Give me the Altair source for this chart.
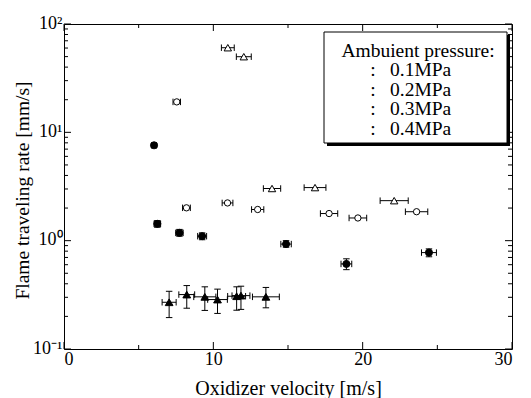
import altair as alt
import pandas as pd

FONT = "Liberation Serif"
W, H = 448, 325

# ---- data ----
ot_x = [10.97, 12.04, 13.93, 16.81, 22.11]
ot_y = [60.4, 49.9, 3.03, 3.09, 2.34]
ot_xerr = [0.43, 0.5, 0.58, 0.73, 0.94]

oc_x = [7.55, 8.2, 10.95, 12.97, 17.75, 19.68, 23.61]
oc_y = [19.1, 2.01, 2.23, 1.94, 1.78, 1.62, 1.85]
oc_xerr = [0.25, 0.26, 0.36, 0.41, 0.58, 0.59, 0.75]

fc_x = [6.03, 6.25, 7.73, 9.25, 14.87, 18.91, 24.44]
fc_y = [7.59, 1.43, 1.18, 1.10, 0.93, 0.61, 0.776]
fc_xerr = [0.15, 0.22, 0.25, 0.3, 0.35, 0.36, 0.5]
fc_ylo = [7.3, 1.33, 1.10, 1.02, 0.87, 0.54, 0.71]
fc_yhi = [7.9, 1.53, 1.27, 1.18, 1.0, 0.68, 0.84]

ft_x = [7.04, 8.22, 9.43, 10.28, 11.56, 11.85, 13.52]
ft_y = [0.27, 0.318, 0.303, 0.286, 0.307, 0.311, 0.303]
ft_xerr = [0.47, 0.53, 0.74, 0.66, 0.6, 0.6, 0.9]
ft_ylo = [0.195, 0.238, 0.227, 0.213, 0.228, 0.232, 0.24]
ft_yhi = [0.341, 0.385, 0.375, 0.357, 0.375, 0.38, 0.37]

legend_title = "Ambuient pressure:"
legend_labels = ["0.1MPa", "0.2MPa", "0.3MPa", "0.4MPa"]

x_ticks = [0, 10, 20, 30]
x_minor = [5, 15, 25]
y_ticks = [0.1, 1, 10, 100]
y_minor = [d * k for d in (0.1, 1, 10) for k in range(2, 10)]

xs = alt.Scale(domain=[0, 30], nice=False, zero=False)
ys = alt.Scale(type="log", domain=[0.1, 100], nice=False)

def frame(x, y, xerr, ylo=None, yhi=None):
    df = pd.DataFrame({"x": x, "y": y, "xerr": xerr})
    df["xlo"] = df["x"] - df["xerr"]
    df["xhi"] = df["x"] + df["xerr"]
    df["ylo"] = ylo if ylo is not None else df["y"]
    df["yhi"] = yhi if yhi is not None else df["y"]
    return df

VCAP = "M0,-1L0,1"
HCAP = "M-1,0L1,0"

def series(df, shape, filled, size, yerr):
    base = alt.Chart(df)
    layers = [
        base.mark_rule(color="black", strokeWidth=1).encode(
            x=alt.X("xlo:Q", scale=xs), x2="xhi:Q", y=alt.Y("y:Q", scale=ys)),
        base.mark_point(shape=VCAP, size=42, color="black", strokeWidth=1, filled=False, opacity=1).encode(
            x=alt.X("xlo:Q", scale=xs), y=alt.Y("y:Q", scale=ys)),
        base.mark_point(shape=VCAP, size=42, color="black", strokeWidth=1, filled=False, opacity=1).encode(
            x=alt.X("xhi:Q", scale=xs), y=alt.Y("y:Q", scale=ys)),
    ]
    if yerr:
        layers += [
            base.mark_rule(color="black", strokeWidth=1).encode(
                x=alt.X("x:Q", scale=xs), y=alt.Y("ylo:Q", scale=ys), y2="yhi:Q"),
            base.mark_point(shape=HCAP, size=42, color="black", strokeWidth=1, filled=False, opacity=1).encode(
                x=alt.X("x:Q", scale=xs), y=alt.Y("ylo:Q", scale=ys)),
            base.mark_point(shape=HCAP, size=42, color="black", strokeWidth=1, filled=False, opacity=1).encode(
                x=alt.X("x:Q", scale=xs), y=alt.Y("yhi:Q", scale=ys)),
        ]
    layers.append(
        base.mark_point(shape=shape, size=size, filled=True, opacity=1,
                        fill="black" if filled else "white", stroke="black", strokeWidth=1).encode(
            x=alt.X("x:Q", scale=xs), y=alt.Y("y:Q", scale=ys))
    )
    return layers

# axes (labels only, ticks drawn inward separately)
y_labels = "datum.value == 100 ? '10\u00b2' : datum.value == 10 ? '10\u00b9' : datum.value == 1 ? '10\u2070' : '10\u207b\u00b9'"
axes = alt.Chart(pd.DataFrame({"x": [0, 30], "y": [0.1, 100]})).mark_point(opacity=0).encode(
    x=alt.X("x:Q", scale=xs, title="Oxidizer velocity [m/s]",
            axis=alt.Axis(values=x_ticks, ticks=False, domain=False, grid=False, labelPadding=1,
                          labelFont=FONT, labelFontSize=18, labelColor="black",
                          titleFont=FONT, titleFontSize=20, titleFontWeight="normal", titleColor="black",
                          titleY=29, titleBaseline="top")),
    y=alt.Y("y:Q", scale=ys, title="Flame traveling rate [mm/s]",
            axis=alt.Axis(values=y_ticks, ticks=False, domain=False, grid=False, labelPadding=2,
                          labelExpr=y_labels, labelBaseline="alphabetic", labelOffset=4,
                          labelFont=FONT, labelFontSize=18, labelColor="black",
                          titleFont=FONT, titleFontSize=19.5, titleFontWeight="normal", titleColor="black",
                          titleX=-32, titleY=166)),
)

def tick_rules(vals, length, which):
    df = pd.DataFrame({"v": vals})
    c = alt.Chart(df).mark_rule(color="black", strokeWidth=1)
    if which == "left":
        return c.encode(y=alt.Y("v:Q", scale=ys), x=alt.value(0), x2=alt.value(length))
    if which == "right":
        return c.encode(y=alt.Y("v:Q", scale=ys), x=alt.value(W), x2=alt.value(W - length))
    if which == "bottom":
        return c.encode(x=alt.X("v:Q", scale=xs), y=alt.value(H), y2=alt.value(H - length))
    return c.encode(x=alt.X("v:Q", scale=xs), y=alt.value(0), y2=alt.value(length))

ticks = []
for side in ("left", "right"):
    ticks.append(tick_rules(y_ticks, 7, side))
    ticks.append(tick_rules(y_minor, 4, side))
for side in ("bottom", "top"):
    ticks.append(tick_rules(x_ticks, 7, side))
    ticks.append(tick_rules(x_minor, 4, side))

one = pd.DataFrame({"a": [0]})
legend = [
    alt.Chart(one).mark_rect(color="black").encode(
        x=alt.value(263), x2=alt.value(446), y=alt.value(11), y2=alt.value(122)),
    alt.Chart(one).mark_rect(fill="white", stroke="black", strokeWidth=1).encode(
        x=alt.value(260), x2=alt.value(443), y=alt.value(8), y2=alt.value(119)),
    alt.Chart(one).mark_text(font=FONT, fontSize=19.5, align="center", baseline="middle", color="black").encode(
        x=alt.value(354), y=alt.value(26.5), text=alt.value(legend_title)),
]
for i, lab in enumerate(legend_labels):
    yy = 46 + 19.5 * i
    legend.append(alt.Chart(one).mark_text(font=FONT, fontSize=19.5, align="center", baseline="middle", color="black").encode(
        x=alt.value(309), y=alt.value(yy), text=alt.value(":")))
    legend.append(alt.Chart(one).mark_text(font=FONT, fontSize=19.5, align="left", baseline="middle", color="black").encode(
        x=alt.value(326), y=alt.value(yy), text=alt.value(lab)))

layers = [axes] + ticks
layers += series(frame(ft_x, ft_y, ft_xerr, ft_ylo, ft_yhi), "triangle-up", True, 60, True)
layers += series(frame(fc_x, fc_y, fc_xerr, fc_ylo, fc_yhi), "circle", True, 50, True)
layers += series(frame(oc_x, oc_y, oc_xerr), "circle", False, 40, False)
layers += series(frame(ot_x, ot_y, ot_xerr), "triangle-up", False, 55, False)
layers += legend

chart = alt.layer(*layers).properties(
    width=W, height=H,
    autosize=alt.AutoSizeParams(type="none"),
    padding={"left": 64, "top": 24, "right": 19, "bottom": 49},
    background="white",
).configure_view(stroke="black", strokeWidth=1)

chart.save("out.html", embed_options={"renderer": "svg", "actions": False})
